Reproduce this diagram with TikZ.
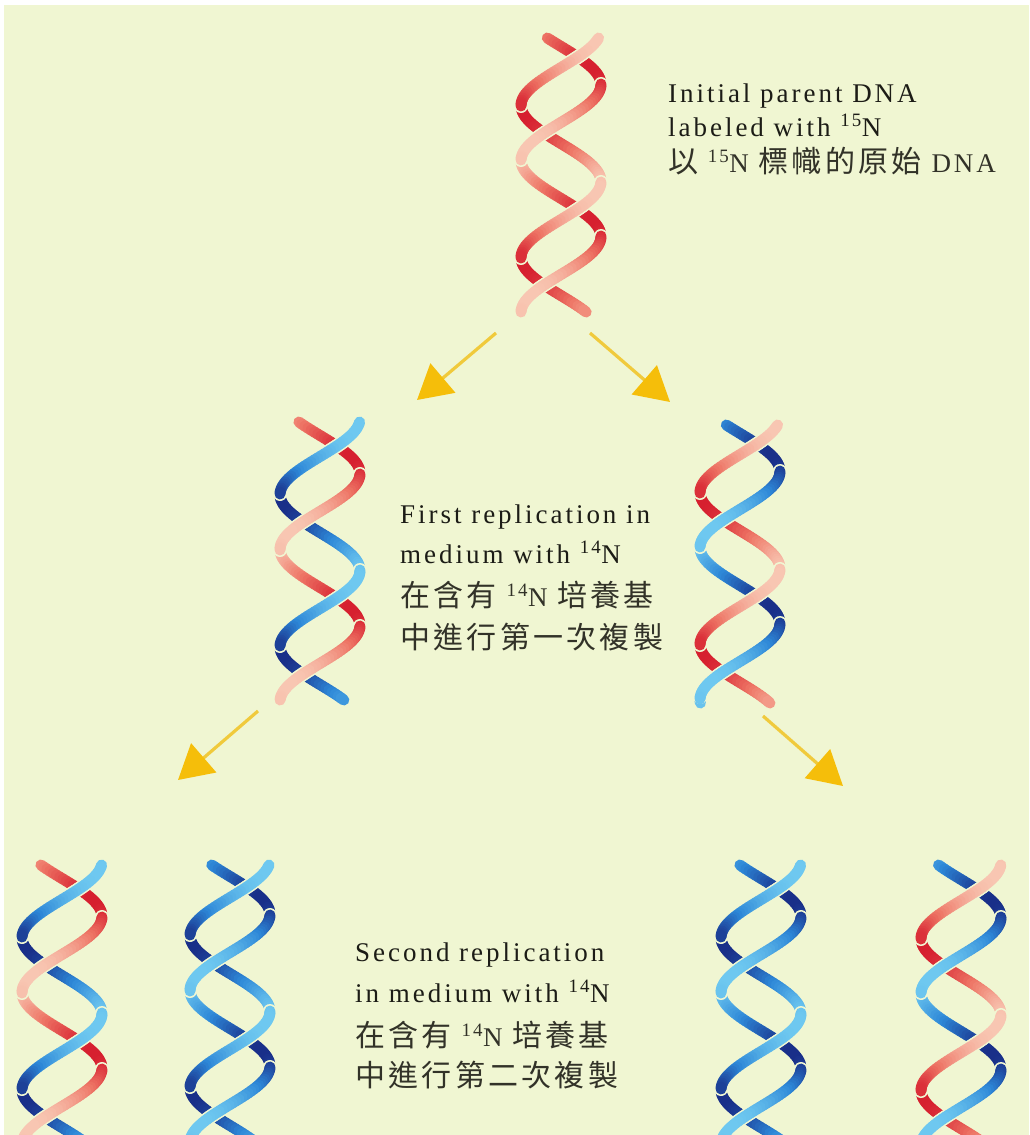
\documentclass[tikz,border=0pt]{standalone}
\usepackage{fontspec}
\setmainfont{Liberation Serif}[LetterSpace=11]
\newfontfamily\cjkfont{Noto Sans CJK TC}[LetterSpace=11]
\usetikzlibrary{arrows.meta}

\definecolor{paper}{RGB}{240,246,210}
\definecolor{redL}{RGB}{248,198,178}
\definecolor{redM}{RGB}{238,118,102}
\definecolor{redD}{RGB}{214,30,46}
\definecolor{bluL}{RGB}{110,200,240}
\definecolor{bluM}{RGB}{45,135,215}
\definecolor{bluD}{RGB}{25,45,135}
\definecolor{arrowline}{RGB}{240,202,60}
\definecolor{arrowhead}{RGB}{245,190,10}
\definecolor{ink}{RGB}{28,28,22}
\definecolor{cjkink}{RGB}{50,50,40}

\newcommand\helixamp{40}
\newcommand\helixper{152}

% One drawing pass over one strand of a double helix.
% #1 centre x, #2 top y, #3 bottom y, #4 y of a left-hand crossing,
% #5 phase offset of the strand, #6 shading direction (1 or -1),
% #7 colour prefix (red/blu), #8 pass: 0 back part, 1 gap halo, 2 front part
\newcommand\strandpass[8]{%
  \pgfmathtruncatemacro\nseg{(#3-#2)/2-1}%
  \foreach \i in {0,...,\nseg}{%
    \pgfmathsetmacro\ya{#2+2*\i}%
    \pgfmathsetmacro\yb{\ya+2}%
    \pgfmathsetmacro\tha{25+(\ya-#4)/\helixper*360+#5}%
    \pgfmathsetmacro\thm{\tha+360/\helixper}%
    \pgfmathsetmacro\thb{\tha+720/\helixper}%
    \pgfmathsetmacro\xa{#1-\helixamp*sin(\tha)}%
    \pgfmathsetmacro\xb{#1-\helixamp*sin(\thb)}%
    \pgfmathtruncatemacro\front{cos(\thm)>0 ? 1 : 0}%
    \pgfmathtruncatemacro\inner{(\i>2)&&(\i<\nseg-2) ? 1 : 0}%
    \pgfmathtruncatemacro\dk{100*((1-cos(#6*\thm-60))/2)^1.25}%
    \ifnum\dk<50
      \pgfmathtruncatemacro\mixv{2*\dk}\colorlet{segcol}{#7M!\mixv!#7L}%
    \else
      \pgfmathtruncatemacro\mixv{2*\dk-100}\colorlet{segcol}{#7D!\mixv!#7M}%
    \fi
    \ifnum#8=0 \ifnum\front=0
      \draw[strandseg,segcol] (\xa,\ya) -- (\xb,\yb);
    \fi\fi
    \ifnum#8=1 \ifnum\front=1 \ifnum\inner=1
      \draw[strandhalo] (\xa,\ya) -- (\xb,\yb);
    \fi\fi\fi
    \ifnum#8=2 \ifnum\front=1
      \draw[strandseg,segcol] (\xa,\ya) -- (\xb,\yb);
    \fi\fi
  }%
}

% A double helix: #1 centre x, #2 top, #3 bottom, #4 left crossing y,
% #5 colour of the first strand, #6 colour of the second strand
\newcommand\helix[6]{%
  \foreach \pass in {0,1,2}{%
    \strandpass{#1}{#2}{#3}{#4}{0}{1}{#5}{\pass}%
    \strandpass{#1}{#2}{#3}{#4}{130}{-1}{#6}{\pass}%
  }%
}

\begin{document}
\begin{tikzpicture}[x=1pt,y=-1pt,
  strandseg/.style={line width=11pt,line cap=round},
  strandhalo/.style={line width=14pt,line cap=round,draw=paper},
  growth/.style={draw=arrowline,line width=3.2pt,
    -{Triangle[length=34pt,width=38pt,color=arrowhead]}},
  lbl/.style={inner sep=0pt,anchor=base west,text=ink,
    font=\fontsize{27}{27}\selectfont},
  cjk/.style={inner sep=0pt,anchor=base west,text=cjkink,
    font=\fontsize{27}{27}\selectfont}]

% page and paper
\fill[white] (0,0) rectangle (1029,1135);
\fill[paper] (4,5) rectangle (1029,1135);
\useasboundingbox (0,0) rectangle (1029,1135);

% parent molecule
\helix{561}{38}{312}{133}{red}{red}
% first generation
\helix{320}{422}{700}{522}{red}{blu}
\helix{740}{425}{703}{520}{blu}{red}
% second generation
\helix{62}{865}{1141}{965}{red}{blu}
\helix{230}{865}{1141}{963}{blu}{blu}
\helix{761}{865}{1141}{965}{blu}{blu}
\helix{961}{865}{1141}{966}{blu}{red}

% arrow ends
\coordinate (p-l) at (496,333);
\coordinate (p-r) at (590,333);
\coordinate (g1-l) at (417,400);
\coordinate (g1-r) at (670,402);
\coordinate (g1l-out) at (258,711);
\coordinate (g1r-out) at (763,716);
\coordinate (g2-l) at (178,780);
\coordinate (g2-r) at (843,786);

\draw[growth] (p-l) -- (g1-l);
\draw[growth] (p-r) -- (g1-r);
\draw[growth] (g1l-out) -- (g2-l);
\draw[growth] (g1r-out) -- (g2-r);

% labels
\newcommand\hz[1]{{\cjkfont\fontsize{30}{30}\selectfont #1}}
\node[lbl] (pa) at (668,102) {Initial parent DNA};
\node[lbl] (pb) at (668,136) {labeled with \textsuperscript{15}N};
\node[cjk] (pc) at (668,172) {\hz{以} \textsuperscript{15}N \hz{標幟的原始} DNA};

\node[lbl] (fa) at (400,523) {First replication in};
\node[lbl] (fb) at (400,563) {medium with \textsuperscript{14}N};
\node[cjk] (fc) at (400,606) {\hz{在含有} \textsuperscript{14}N \hz{培養基}};
\node[cjk] (fd) at (400,648) {\hz{中進行第一次複製}};

\node[lbl] (sa) at (355,961) {Second replication};
\node[lbl] (sb) at (355,1002) {in medium with \textsuperscript{14}N};
\node[cjk] (sc) at (355,1046) {\hz{在含有} \textsuperscript{14}N \hz{培養基}};
\node[cjk] (sd) at (355,1086) {\hz{中進行第二次複製}};
\end{tikzpicture}
\end{document}
